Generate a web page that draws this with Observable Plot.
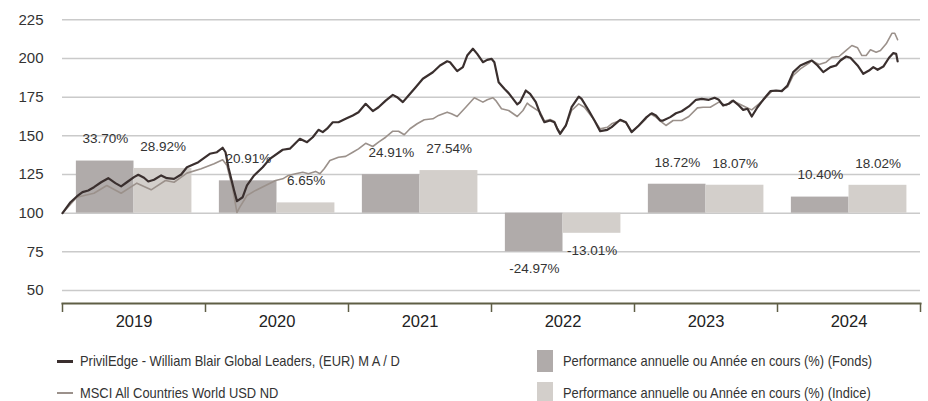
<!DOCTYPE html>
<html><head><meta charset="utf-8">
<script src="https://cdn.jsdelivr.net/npm/d3@7"></script>
<script src="https://cdn.jsdelivr.net/npm/@observablehq/plot@0.6"></script>
<style>
body{margin:0;background:#fff;width:928px;height:401px;overflow:hidden;position:relative;font-family:"Liberation Sans",Arial,sans-serif;}
#chart{position:absolute;left:0;top:0}
.leg{position:absolute;font-family:"Liberation Sans",Arial,sans-serif;font-size:14.5px;color:#333;white-space:nowrap;line-height:16px;transform:scaleX(0.89);transform-origin:0 50%}
.sw{position:absolute}
</style></head><body>
<div id="chart"></div>
<div id="legend"></div>
<script>
// Annual performance bars
const years = [2019, 2020, 2021, 2022, 2023, 2024];
const fundPerf = [33.70, 20.91, 24.91, -24.97, 18.72, 10.40];
const indexPerf = [28.92, 6.65, 27.54, -13.01, 18.07, 18.02];
const yTicks = [50, 75, 100, 125, 150, 175, 200, 225];

// Fund (rebased 100) – time in decimal years
const fundT = [2019.00,2019.056,2019.10,2019.14,2019.18,2019.22,2019.27,2019.32,2019.37,2019.41,2019.45,2019.50,2019.53,2019.57,2019.60,2019.64,2019.69,2019.73,2019.78,2019.83,2019.87,2019.95,
2020.03,2020.08,2020.12,2020.14,2020.16,2020.20,2020.22,2020.26,2020.29,2020.34,2020.40,2020.45,2020.54,2020.59,2020.66,2020.71,2020.75,2020.79,2020.82,2020.85,2020.89,2020.93,2020.98,
2021.03,2021.07,2021.12,2021.17,2021.21,2021.26,2021.31,2021.34,2021.38,2021.42,2021.47,2021.52,2021.59,2021.64,2021.69,2021.71,2021.76,2021.80,2021.83,2021.87,2021.90,2021.94,2021.97,
2022.00,2022.02,2022.05,2022.09,2022.12,2022.18,2022.20,2022.24,2022.27,2022.31,2022.34,2022.37,2022.41,2022.44,2022.46,2022.48,2022.52,2022.56,2022.61,2022.63,2022.68,2022.72,2022.76,2022.81,2022.84,2022.90,2022.94,2022.98,
2023.03,2023.08,2023.12,2023.15,2023.18,2023.20,2023.25,2023.29,2023.33,2023.38,2023.43,2023.47,2023.52,2023.56,2023.59,2023.62,2023.66,2023.69,2023.73,2023.76,2023.79,2023.82,2023.86,2023.90,2023.95,2023.99,
2024.03,2024.07,2024.11,2024.16,2024.21,2024.24,2024.28,2024.32,2024.37,2024.41,2024.44,2024.48,2024.51,2024.56,2024.60,2024.64,2024.67,2024.70,2024.74,2024.78,2024.81,2024.83,2024.84];
const fundV = [100,107.1,110.8,113.6,114.7,116.8,120,122.6,119.4,117.3,120,123.3,124.8,122.9,120.5,121.6,124.4,122.6,122.2,125,129.7,133,
138.4,139.4,142.3,139.4,129.7,114.7,107.8,110.3,117.9,124.4,129.7,135.1,141,141.7,148.1,145.9,149.1,153.9,152.4,154.6,158.8,158.8,161,
163.2,165.3,170.7,166,168.5,172.8,176.5,175,171.8,176.1,181.4,186.9,191.1,195.5,198.2,197.6,191.8,194.4,201.9,206.3,203,197.6,199.1,
199.8,197.6,184.7,180.4,177.6,170.3,171.8,179.3,177.2,171.8,164.3,158.8,159.9,158.8,154.5,151.3,156.7,168.5,175.4,173.9,166.4,159.9,153,153.9,155.6,160.4,158.8,152.4,
156.7,161.7,164.6,163.2,159.9,159.9,162.1,164.6,165.9,169,173.3,173.9,173.3,174.6,173.3,169.6,170.7,172.8,169.6,166.8,167.5,162.5,168.5,173.3,178.9,179.3,
178.9,182.6,191.2,195.5,197.6,198.7,195.5,191.2,194.4,195.5,198.7,201.3,200.5,195.5,190.1,192.2,194.4,192.7,194.8,200.5,203.5,203,198.2];

// Index (rebased 100)
const indexT = [2019.00,2019.10,2019.22,2019.31,2019.41,2019.52,2019.62,2019.72,2019.78,2019.87,2019.97,
2020.06,2020.12,2020.15,2020.19,2020.22,2020.24,2020.29,2020.35,2020.42,2020.49,2020.54,2020.58,2020.63,2020.68,2020.72,2020.77,2020.80,2020.83,2020.87,2020.93,2020.98,
2021.03,2021.07,2021.12,2021.17,2021.21,2021.26,2021.31,2021.35,2021.39,2021.43,2021.48,2021.53,2021.59,2021.63,2021.69,2021.72,2021.76,2021.82,2021.88,2021.94,2021.97,
2022.01,2022.03,2022.07,2022.12,2022.18,2022.22,2022.25,2022.27,2022.34,2022.37,2022.41,2022.44,2022.46,2022.48,2022.52,2022.56,2022.61,2022.65,2022.72,2022.76,2022.81,2022.84,2022.90,2022.94,2022.98,
2023.03,2023.08,2023.11,2023.15,2023.19,2023.22,2023.27,2023.33,2023.38,2023.44,2023.48,2023.53,2023.59,2023.64,2023.68,2023.73,2023.78,2023.82,2023.87,2023.92,2023.96,
2024.02,2024.07,2024.11,2024.16,2024.22,2024.24,2024.29,2024.34,2024.38,2024.43,2024.48,2024.52,2024.56,2024.59,2024.62,2024.65,2024.69,2024.72,2024.76,2024.80,2024.82,2024.84];
const indexV = [100,110.3,112.9,117.9,112.9,119.4,115.1,121.1,120,125.9,128.7,
131.9,134.5,130.8,115.8,100.5,103.9,111.4,114.7,117.9,121.1,122.2,124.4,125.5,126.5,125.5,127,125.5,128.7,134.1,136.2,136.7,
139.4,141.6,145.2,143.1,145.9,149.1,153,153,150.7,154.6,157.8,160.4,161,163.2,165.3,164.3,162.5,168.5,174.6,171.8,173.3,
174.6,172.8,167.5,166.4,162.5,166.4,171.1,169.6,165.3,159.5,160.5,159.3,155,152,156.5,166.4,170.7,168.5,160,154.5,155.5,157.8,159.9,158.5,152.8,
156.5,161,164.3,162.1,158.8,156.7,159.9,159.9,162.5,168.1,168.5,168.5,171.8,169.6,172.8,170.7,168.5,166.8,170.7,174.9,178.9,
178.9,181.5,189,193.3,197,198.7,196.1,197.6,200.8,201.3,205.2,208.4,206.9,201.9,201.9,205.6,204.1,205.2,209.5,216.3,216.3,212.1];

const legendLabels = [
  "PrivilEdge - William Blair Global Leaders, (EUR) M A / D",
  "MSCI All Countries World USD ND",
  "Performance annuelle ou Année en cours (%) (Fonds)",
  "Performance annuelle ou Année en cours (%) (Indice)"
];

const C = {fund: "#3a2f2e", index: "#9b918b", fundBar: "#b0abaa", indexBar: "#d3cfcb", axis: "#5f5e45", grid: "#cacaca", text: "#333"};

const fund = fundT.map((t, i) => ({t, v: fundV[i]}));
const idx = indexT.map((t, i) => ({t, v: indexV[i]}));
const bars = [];
years.forEach((y, i) => {
  bars.push({year: y, perf: fundPerf[i], s: 0});
  bars.push({year: y, perf: indexPerf[i], s: 1});
});
const x1 = d => d.year + (d.s === 0 ? 0.097 : 0.5);
const x2 = d => d.year + (d.s === 0 ? 0.5 : 0.905);
const xc = d => d.year + (d.s === 0 ? 0.3 : 0.703);
const fmt = d => d.perf.toFixed(2) + "%";
const boundaries = years.concat([years[years.length - 1] + 1]);
const mids = years.map(y => y + 0.5);

const chart = Plot.plot({
  width: 928, height: 340,
  marginLeft: 62, marginRight: 8, marginTop: 0, marginBottom: 37,
  x: {domain: [2019, 2025], axis: null},
  y: {domain: [41.6, 237.5], axis: null},
  style: {fontFamily: "'Liberation Sans', Arial, sans-serif", background: "white", overflow: "visible"},
  marks: [
    Plot.gridY(yTicks, {stroke: C.grid, strokeOpacity: 1, strokeWidth: 1.5}),
    Plot.axisY(yTicks, {tickSize: 0, tickPadding: 19, fontSize: 15, fill: C.text, label: null}),
    Plot.rectY(bars, {x1, x2, y1: () => 100, y2: d => 100 + d.perf, fill: d => d.s === 0 ? C.fundBar : C.indexBar, inset: 0}),
    Plot.lineY(idx, {x: "t", y: "v", stroke: C.index, strokeWidth: 1.6}),
    Plot.lineY(fund, {x: "t", y: "v", stroke: C.fund, strokeWidth: 2.2}),
    Plot.text(bars.filter(d => d.perf >= 0), {x: xc, y: d => 100 + d.perf, text: fmt, dy: -22, fontSize: 13.5, fill: C.text}),
    Plot.text(bars.filter(d => d.perf < 0), {x: xc, y: d => 100 + d.perf, text: fmt, dy: 17, fontSize: 13.5, fill: C.text}),
    Plot.frame({anchor: "bottom", stroke: C.axis, strokeWidth: 2}),
    Plot.axisX({ticks: boundaries, text: null, tickSize: 9, stroke: C.axis, strokeWidth: 1.5, label: null}),
    Plot.axisX({ticks: mids, tickSize: 0, tickPadding: 12, tickFormat: d => String(Math.floor(d)), fontSize: 16.5, fill: "#222", label: null})
  ]
});
document.getElementById("chart").appendChild(chart);

// Legend
const leg = document.getElementById("legend");
const items = [
  {label: legendLabels[0], color: C.fund, h: 3, sx: 57, tx: 80, cy: 361},
  {label: legendLabels[1], color: C.index, h: 2, sx: 57, tx: 80, cy: 393},
  {label: legendLabels[2], color: C.fundBar, h: 22, sx: 537, tx: 563, cy: 361},
  {label: legendLabels[3], color: C.indexBar, h: 22, sx: 537, tx: 563, cy: 393}
];
items.forEach(it => {
  const sw = document.createElement("div");
  sw.className = "sw";
  sw.style.left = it.sx + "px";
  sw.style.width = "16px";
  sw.style.height = it.h + "px";
  sw.style.top = (it.cy - it.h / 2) + "px";
  sw.style.background = it.color;
  leg.appendChild(sw);
  const t = document.createElement("div");
  t.className = "leg";
  t.style.left = it.tx + "px";
  t.style.top = (it.cy - 8) + "px";
  t.textContent = it.label;
  leg.appendChild(t);
});
</script>
</body></html>
